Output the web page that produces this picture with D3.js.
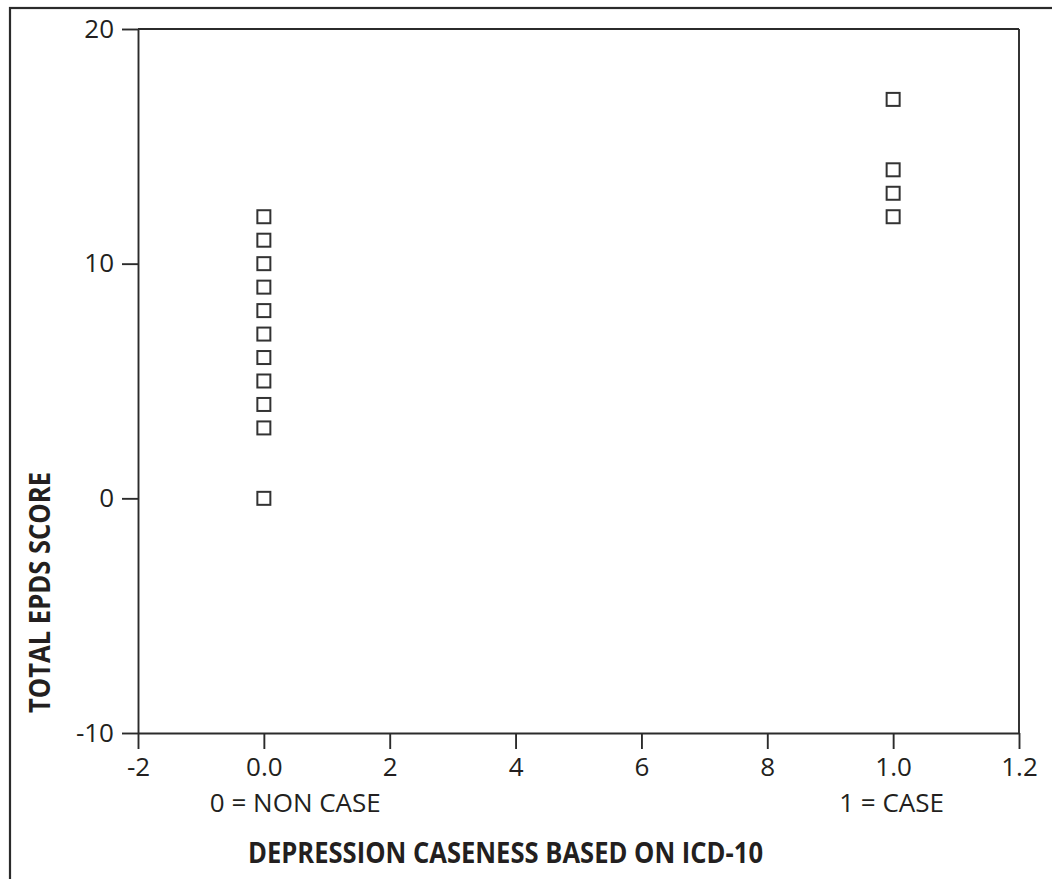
<!DOCTYPE html>
<html>
<head>
<meta charset="utf-8">
<script src="https://cdn.jsdelivr.net/npm/d3@7"></script>
<style>
  html, body { margin: 0; padding: 0; background: #fff; }
  svg { display: block; }
  text { font-family: "Open Sans", sans-serif; fill: #231f20; }
</style>
</head>
<body>
<div class="chart"></div>
<script>
// Scatter of EPDS score against ICD-10 caseness

var xTicks = [-2, 0, 2, 4, 6, 8, 10, 12];
var xTickLabels = ["-2", "0.0", "2", "4", "6", "8", "1.0", "1.2"];
var yTicks = [-10, 0, 10, 20];
var yTickLabels = ["-10", "0", "10", "20"];
var groupX = [0, 10];
var groupLabels = ["0 = NON CASE", "1 = CASE"];
var nonCaseScores = [0, 3, 4, 5, 6, 7, 8, 9, 10, 11, 12];
var caseScores = [12, 13, 14, 17];

var width = 1052,
	height = 879,
	ink = "#2b2b2b";

var svg = d3.select(".chart").append("svg")
	.attr("width", width)
	.attr("height", height);

// outer frame, cut off by the page edge on the right and bottom
svg.append("rect")
	.attr("x", 10).attr("y", 8)
	.attr("width", 1200).attr("height", 1000)
	.attr("fill", "none")
	.attr("stroke", ink)
	.attr("stroke-width", 2.2);

var x = d3.scaleLinear().domain([-2, 12]).range([138, 1019]),
	y = d3.scaleLinear().domain([-10, 20]).range([733, 29]);

var xAxis = svg.append("g")
	.attr("transform", "translate(0," + y(-10) + ")")
	.call(d3.axisBottom(x)
		.tickValues(xTicks)
		.tickFormat(function(d, i) { return xTickLabels[i]; })
		.tickSize(16)
		.tickSizeOuter(0)
		.tickPadding(9));

var yAxis = svg.append("g")
	.attr("transform", "translate(" + x(-2) + ",0)")
	.call(d3.axisLeft(y)
		.tickValues(yTicks)
		.tickFormat(function(d, i) { return yTickLabels[i]; })
		.tickSize(16)
		.tickSizeOuter(0)
		.tickPadding(8));

[xAxis, yAxis].forEach(function(g) {
	g.selectAll("path, line").attr("stroke", ink).attr("stroke-width", 1.9);
	g.selectAll("text")
		.style("font-size", "26px")
		.style("font-family", "'Open Sans', sans-serif")
		.attr("fill", "#231f20");
});

// top and right edges of the plot box
svg.append("line")
	.attr("x1", x(-2)).attr("x2", x(12))
	.attr("y1", y(20)).attr("y2", y(20))
	.attr("stroke", ink).attr("stroke-width", 1.9);
svg.append("line")
	.attr("x1", x(12)).attr("x2", x(12))
	.attr("y1", y(20)).attr("y2", y(-10))
	.attr("stroke", ink).attr("stroke-width", 1.9);

// group labels under the tick labels
svg.selectAll(".group-label")
	.data(groupLabels)
	.enter().append("text")
		.attr("class", "group-label")
		.attr("x", function(d, i) { return x(groupX[i]) - 54; })
		.attr("y", 812)
		.style("font-size", "26px")
		.text(function(d) { return d; });

svg.append("text")
	.attr("x", 248)
	.attr("y", 863)
	.attr("textLength", 515)
	.attr("lengthAdjust", "spacingAndGlyphs")
	.style("font-size", "28px")
	.style("font-weight", "bold")
	.text("DEPRESSION CASENESS BASED ON ICD-10");

svg.append("text")
	.attr("transform", "translate(50,713) rotate(-90)")
	.attr("textLength", 241)
	.attr("lengthAdjust", "spacingAndGlyphs")
	.style("font-size", "28px")
	.style("font-weight", "bold")
	.text("TOTAL EPDS SCORE");

var points = nonCaseScores.map(function(s) { return {g: groupX[0], score: s}; })
	.concat(caseScores.map(function(s) { return {g: groupX[1], score: s}; }));

var size = 13;
svg.selectAll(".pt")
	.data(points)
	.enter().append("rect")
		.attr("class", "pt")
		.attr("x", function(d) { return x(d.g) - size / 2; })
		.attr("y", function(d) { return y(d.score) - size / 2; })
		.attr("width", size)
		.attr("height", size)
		.attr("fill", "#fff")
		.attr("stroke", "#333")
		.attr("stroke-width", 2);
</script>
</body>
</html>
